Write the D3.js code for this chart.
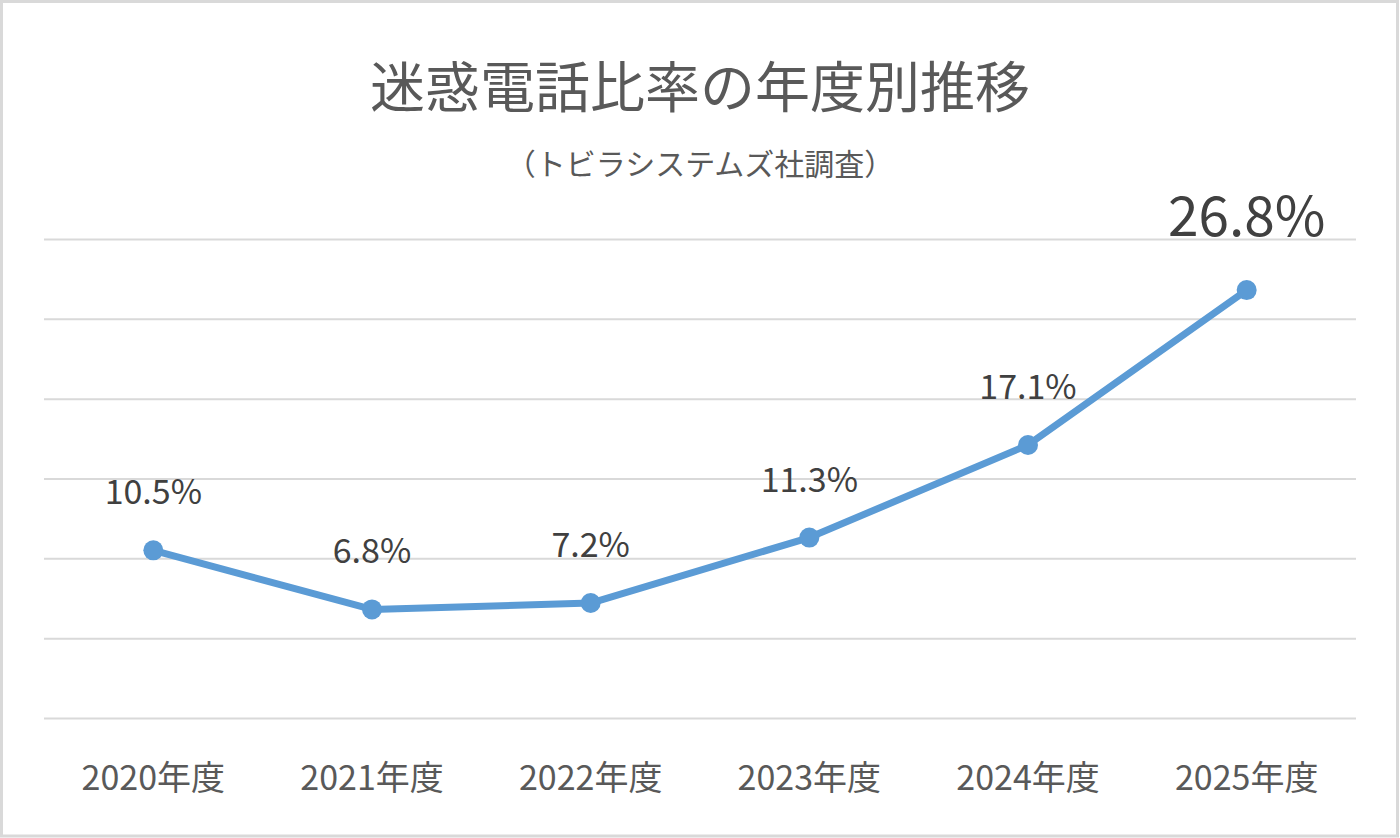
<!DOCTYPE html>
<html>
<head>
<meta charset="utf-8">
<script src="https://cdn.jsdelivr.net/npm/d3@7"></script>
<style>
  html, body { margin: 0; padding: 0; background: #fff; }
  svg { display: block; }
  text { font-family: "Noto Sans CJK JP", "Noto Sans", sans-serif; }
</style>
</head>
<body>
<div id="chart"></div>
<script>
// data
var years = ['2020年度', '2021年度', '2022年度', '2023年度', '2024年度', '2025年度'];
var rates = [10.5, 6.8, 7.2, 11.3, 17.1, 26.8];
var gridTicks = [0, 5, 10, 15, 20, 25, 30];
var titleText = '迷惑電話比率の年度別推移';
var subtitleText = '（トビラシステムズ社調査）';

var outerWidth = 1400, outerHeight = 838;
var margin = { left: 44, top: 239, right: 44, bottom: 120 };
var innerWidth = outerWidth - margin.left - margin.right;
var innerHeight = outerHeight - margin.top - margin.bottom;

var x = d3.scaleBand().domain(years).range([0, innerWidth]);
var y = d3.scaleLinear().domain([0, 30]).range([innerHeight, 0]);

var svg = d3.select('#chart').append('svg')
  .attr('width', outerWidth)
  .attr('height', outerHeight);

// frame
svg.append('rect')
  .attr('x', 1.5).attr('y', 1.5)
  .attr('width', outerWidth - 4).attr('height', outerHeight - 3.5)
  .attr('fill', '#fff')
  .attr('stroke', '#d9d9d9')
  .attr('stroke-width', 3);

svg.append('text')
  .attr('x', outerWidth / 2).attr('y', 107)
  .attr('text-anchor', 'middle')
  .attr('fill', '#595959')
  .style('font-size', '55px')
  .text(titleText);

svg.append('text')
  .attr('x', outerWidth / 2).attr('y', 175)
  .attr('text-anchor', 'middle')
  .attr('fill', '#595959')
  .style('font-size', '30px')
  .text(subtitleText);

var g = svg.append('g')
  .attr('transform', 'translate(' + margin.left + ',' + margin.top + ')');

// horizontal grid
g.append('g')
  .attr('class', 'yGrid')
  .call(d3.axisLeft(y).tickValues(gridTicks).tickSize(-innerWidth).tickFormat(''))
  .call(function (s) {
    s.select('.domain').remove();
    s.selectAll('line').attr('stroke', '#d9d9d9').attr('stroke-width', 2);
  });

// x axis labels
g.append('g')
  .attr('class', 'xAxis')
  .attr('transform', 'translate(0,' + innerHeight + ')')
  .call(d3.axisBottom(x).tickSize(0).tickPadding(48))
  .call(function (s) {
    s.select('.domain').remove();
    s.selectAll('text')
      .attr('fill', '#595959')
      .style('font-family', '"Noto Sans CJK JP", sans-serif')
      .style('font-size', '34px');
  });

function cx(d, i) { return x(years[i]) + x.bandwidth() / 2; }

var line = d3.line()
  .x(function (d, i) { return cx(d, i); })
  .y(function (d) { return y(d); });

g.append('path')
  .attr('d', line(rates))
  .attr('fill', 'none')
  .attr('stroke', '#5b9bd5')
  .attr('stroke-width', 7)
  .attr('stroke-linejoin', 'round');

g.selectAll('circle')
  .data(rates)
  .enter()
  .append('circle')
  .attr('cx', cx)
  .attr('cy', function (d) { return y(d); })
  .attr('r', 10)
  .attr('fill', '#5b9bd5');

g.selectAll('text.val')
  .data(rates)
  .enter()
  .append('text')
  .attr('class', 'val')
  .attr('x', cx)
  .attr('y', function (d, i) { return y(d) - (i === rates.length - 1 ? 54 : 46); })
  .attr('text-anchor', 'middle')
  .attr('fill', '#404040')
  .style('font-size', function (d, i) { return i === rates.length - 1 ? '55px' : '34px'; })
  .text(function (d) { return d.toFixed(1) + '%'; });
</script>
</body>
</html>
